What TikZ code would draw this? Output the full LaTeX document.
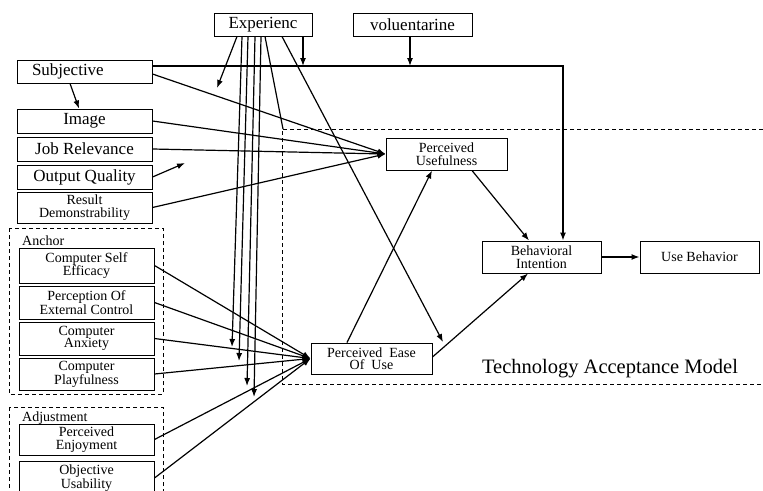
\documentclass[tikz,border=0pt]{standalone}
\usepackage{fontspec}
\setmainfont{Liberation Serif}
\usetikzlibrary{arrows.meta,calc}
\newcommand\FntA{\fontsize{17}{17}\selectfont}
\newcommand\FntB{\fontsize{14}{12.5}\selectfont}
\newcommand\FntC{\fontsize{20.5}{20.5}\selectfont}
\begin{document}
\begin{tikzpicture}[x=1pt,y=-1pt,
  box/.style={draw, line width=1pt, inner sep=1pt, align=center},
  arr/.style={line width=1.2pt, -{Latex[length=8pt,width=6pt]}},
  ln/.style={line width=1.2pt},
  grp/.style={draw, line width=0.8pt, dash pattern=on 4pt off 3pt}]
\useasboundingbox (0,0) rectangle (763,490);
\clip (0,0) rectangle (763,490);

% group frames
\draw[grp] (770,129) -- (282,129) -- (282,384) -- (770,384);
\draw[grp] (9,228) rectangle (163,394);
\draw[grp] (9,407) rectangle (163,520);
\node[anchor=west, inner sep=0pt, font=\FntB] (anc) at (22,241) {Anchor};
\node[anchor=west, inner sep=0pt, font=\FntB] (adj) at (22,418) {Adjustment};
\node[inner sep=0pt, font=\FntC] (tam) at (610,369) {Technology Acceptance Model};

% top boxes
\node[box, minimum width=98pt, minimum height=23pt, font=\FntA] (exp) at (263,24.5) {Experienc};
\node[box, minimum width=119pt, minimum height=23pt, font=\FntA] (vol) at (412.5,24.5) {voluentarine};

% left column
\node[box, minimum width=135pt, minimum height=23pt, font=\FntA, text width=105pt, align=left, inner xsep=15pt] (subj) at (84.5,71.5) {Subjective};
\node[box, minimum width=135pt, minimum height=24pt, font=\FntA] (img) at (84.5,121) {Image};
\node[box, minimum width=135pt, minimum height=24pt, font=\FntA] (job) at (84.5,149) {Job Relevance};
\node[box, minimum width=135pt, minimum height=24pt, font=\FntA] (out) at (84.5,177) {Output Quality};
\node[box, minimum width=135pt, minimum height=31pt, font=\FntB] (res) at (84.5,207.5) {Result\\Demonstrability};

\node[box, minimum width=135pt, minimum height=35pt, font=\FntB] (cse) at (86.5,265.5) {Computer Self\\Efficacy};
\node[box, minimum width=135pt, minimum height=33pt, font=\FntB] (pec) at (86.5,302.5) {Perception Of\\External Control};
\node[box, minimum width=135pt, minimum height=33pt, font=\FntB] (ca) at (86.5,338.5) {Computer\\Anxiety};
\node[box, minimum width=135pt, minimum height=32pt, font=\FntB] (cp) at (86.5,374) {Computer\\Playfulness};
\node[box, minimum width=135pt, minimum height=31pt, font=\FntB] (pe) at (86.5,439.5) {Perceived\\Enjoyment};
\node[box, minimum width=135pt, minimum height=34pt, font=\FntB] (ou) at (86.5,478) {Objective\\Usability};

% TAM boxes
\node[box, minimum width=121pt, minimum height=32pt, font=\FntB] (pu) at (446.5,154) {Perceived\\Usefulness};
\node[box, minimum width=121pt, minimum height=31pt, font=\FntB] (peou) at (371.5,358.5) {Perceived\ \ Ease\\Of\ \ Use};
\node[box, minimum width=119pt, minimum height=32pt, font=\FntB] (bi) at (541.5,257) {Behavioral\\Intention};
\node[box, minimum width=119pt, minimum height=32pt, font=\FntB] (ub) at (699.5,257) {Use Behavior};

% free-end coordinates
\coordinate (m1) at (303,66);
\coordinate (m2) at (410,66);
\coordinate (m3) at (217,88);
\coordinate (v1) at (232,347);
\coordinate (v2) at (239,361);
\coordinate (v3) at (247,386);
\coordinate (v4) at (254,397);
\coordinate (tc) at (283,129);
\coordinate (m8) at (443,342);
\coordinate (m9) at (185,163);

% connectors
\draw[arr] ([yshift=5.5pt]subj.east) -| ([xshift=21.5pt]bi.north);
\draw[arr] (m1 |- exp.south) -- (m1);
\draw[arr] (m2 |- vol.south) -- (m2);
\draw[arr] ([xshift=-26pt]exp.south) -- (m3);
\draw[arr] ([xshift=-21pt]exp.south) -- (v1);
\draw[arr] ([xshift=-15pt]exp.south) -- (v2);
\draw[arr] ([xshift=-8pt]exp.south) -- (v3);
\draw[arr] ([xshift=-2pt]exp.south) -- (v4);
\draw[ln] ([xshift=2pt]exp.south) -- (tc);
\draw[arr] ([xshift=19pt]exp.south) -- (m8);

\draw[arr] ([xshift=-14.5pt]subj.south) -- ([xshift=-5.5pt]img.north);
\draw[arr] ([yshift=-2.5pt]subj.east) -- (pu.west);
\draw[arr] (img.east) -- (pu.west);
\draw[arr] (job.east) -- (pu.west);
\draw[arr] (res.east) -- (pu.west);
\draw[arr] (out.east) -- (m9);

\draw[arr] (cse.east) -- (peou.west);
\draw[arr] (pec.east) -- (peou.west);
\draw[arr] (ca.east) -- (peou.west);
\draw[arr] (cp.east) -- (peou.west);
\draw[arr] (pe.east) -- (peou.west);
\draw[arr] (ou.east) -- (peou.west);

\draw[arr] ([xshift=-24.5pt]peou.north) -- ([xshift=-14.5pt]pu.south);
\draw[arr] ([xshift=25.5pt]pu.south) -- ([xshift=-12.5pt]bi.north);
\draw[arr] ([yshift=1.5pt]peou.east) -- ([xshift=-13.5pt]bi.south);
\draw[arr] (bi.east) -- (ub.west);
\end{tikzpicture}
\end{document}
